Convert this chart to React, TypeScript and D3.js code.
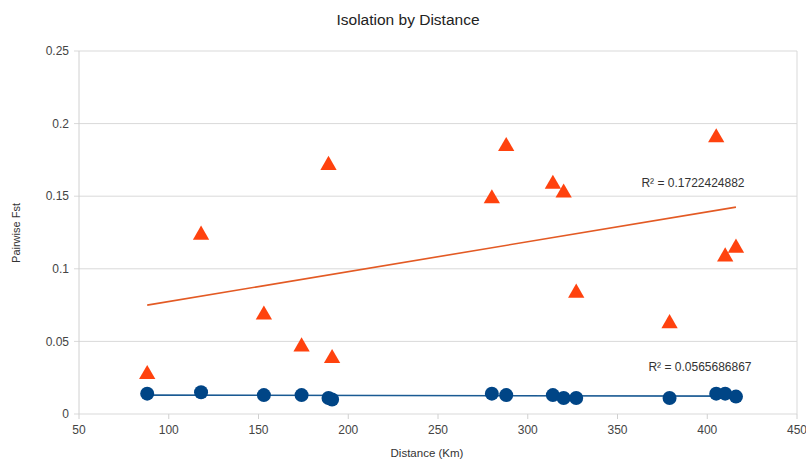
import React, { useEffect } from 'react'
import * as d3 from 'd3'

// distances (km) shared by both series
const distances = [88, 118, 153, 174, 189, 191, 280, 288, 314, 320, 327, 379, 405, 410, 416]
// orange triangles
const fstHigh = [0.028, 0.124, 0.069, 0.047, 0.172, 0.039, 0.149, 0.185, 0.159, 0.153, 0.084, 0.063, 0.191, 0.109, 0.115]
// blue circles
const fstLow = [0.014, 0.015, 0.013, 0.013, 0.011, 0.010, 0.014, 0.013, 0.013, 0.011, 0.011, 0.011, 0.014, 0.014, 0.012]

const xTicks = [50, 100, 150, 200, 250, 300, 350, 400, 450]
const yTicks = [0, 0.05, 0.1, 0.15, 0.2, 0.25]
const r2Labels = ['R² = 0.1722424882', 'R² = 0.0565686867']

const W = 806
const H = 463
const margin = { top: 51, right: 9, bottom: 49, left: 79 }
const FONT = '"Liberation Sans", Arial, sans-serif'

const ORANGE = '#ff420e'
const BLUE = '#004586'

// least-squares fit
const fit = (xs: number[], ys: number[]) => {
  const mx = d3.mean(xs)!
  const my = d3.mean(ys)!
  let num = 0
  let den = 0
  xs.forEach((x, i) => {
    num += (x - mx) * (ys[i] - my)
    den += (x - mx) * (x - mx)
  })
  const slope = num / den
  return (x: number) => my + slope * (x - mx)
}

const App: React.FC = () => {
  useEffect(() => {
    document.body.style.margin = '0'
  }, [])

  const innerW = W - margin.left - margin.right
  const innerH = H - margin.top - margin.bottom

  const x = d3.scaleLinear().domain([50, 450]).range([0, innerW])
  const y = d3.scaleLinear().domain([0, 0.25]).range([innerH, 0])

  const xMin = d3.min(distances)!
  const xMax = d3.max(distances)!
  const fHigh = fit(distances, fstHigh)
  const fLow = fit(distances, fstLow)

  const line = d3.line<number[]>().x(d => x(d[0])).y(d => y(d[1]))
  const tri = d3.symbol().type(d3.symbolTriangle).size(115)()

  return (
    <svg width={W} height={H} style={{ display: 'block', background: '#fff' }} fontFamily={FONT}>
      <text x={408} y={25} textAnchor="middle" fontSize={15.5} fill="#222">Isolation by Distance</text>

      <g transform={`translate(${margin.left},${margin.top})`}>
        {yTicks.map(t => (
          <g key={t}>
            <line x1={-5} x2={innerW} y1={y(t)} y2={y(t)} stroke="#d9d9d9" strokeWidth={1} />
            <text x={-10} y={y(t)} dy="0.35em" textAnchor="end" fontSize={12} fill="#444">{t}</text>
          </g>
        ))}
        <line x1={0} x2={0} y1={0} y2={innerH} stroke="#d0d0d0" />
        <line x1={innerW} x2={innerW} y1={0} y2={innerH} stroke="#d9d9d9" />
        {xTicks.map(t => (
          <g key={t}>
            <line x1={x(t)} x2={x(t)} y1={innerH} y2={innerH + 5} stroke="#d0d0d0" />
            <text x={x(t)} y={innerH + 20} textAnchor="middle" fontSize={12} fill="#444">{t}</text>
          </g>
        ))}

        <path d={line([[xMin, fHigh(xMin)], [xMax, fHigh(xMax)]])!} stroke="#e35a24" strokeWidth={1.6} fill="none" />
        <path d={line([[xMin, fLow(xMin)], [xMax, fLow(xMax)]])!} stroke="#1a5a93" strokeWidth={1.6} fill="none" />

        {distances.map((d, i) => (
          <path key={'t' + i} d={tri!} transform={`translate(${x(d)},${y(fstHigh[i]) + 1})`} fill={ORANGE} />
        ))}
        {distances.map((d, i) => (
          <circle key={'c' + i} cx={x(d)} cy={y(fstLow[i])} r={7} fill={BLUE} />
        ))}

        <text x={693 - margin.left} y={183 - margin.top} dy="0.35em" textAnchor="middle" fontSize={12} fill="#333">{r2Labels[0]}</text>
        <text x={700 - margin.left} y={367 - margin.top} dy="0.35em" textAnchor="middle" fontSize={12} fill="#333">{r2Labels[1]}</text>
      </g>

      <text transform={`translate(20,233) rotate(-90)`} textAnchor="middle" fontSize={11} fill="#333">Pairwise Fst</text>
      <text x={427} y={457} textAnchor="middle" fontSize={11.5} fill="#333">Distance (Km)</text>
    </svg>
  )
}

export default App
